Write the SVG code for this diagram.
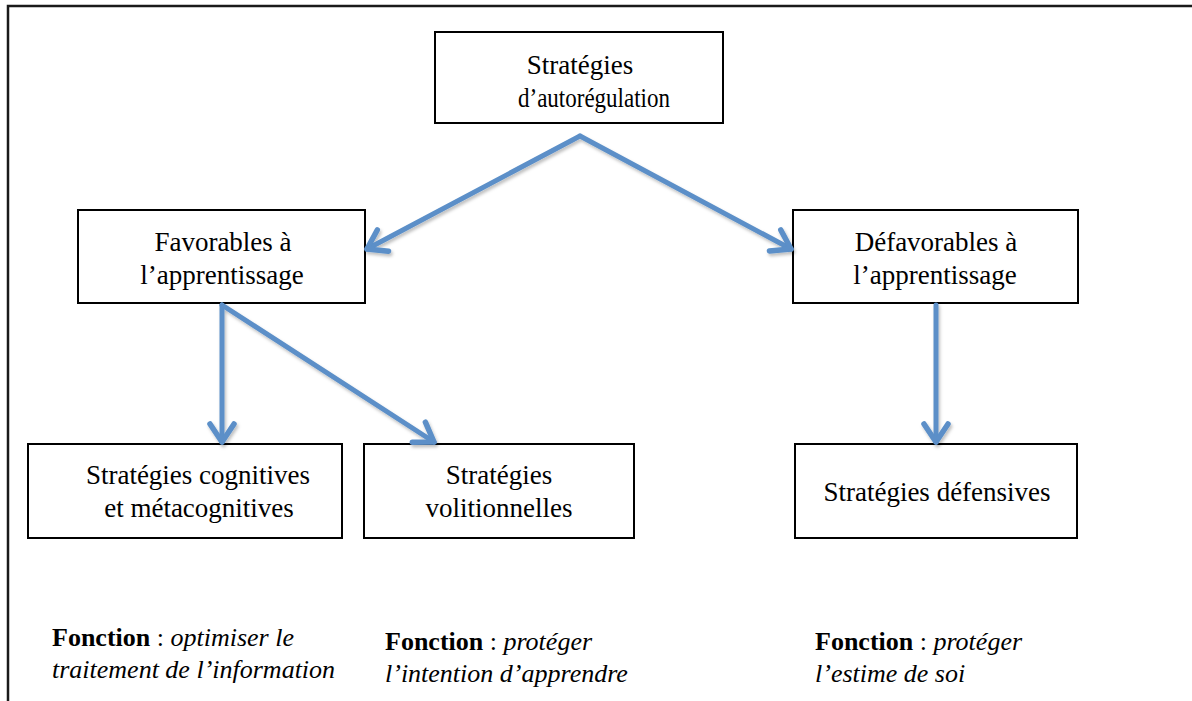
<svg xmlns="http://www.w3.org/2000/svg" width="1192" height="701" viewBox="0 0 1192 701">
<style>
.box{fill:#fff;stroke:#000;stroke-width:2}
.t{font-family:"Liberation Serif","Times New Roman",serif;font-size:27px;fill:#000;text-anchor:middle}
.f{font-family:"Liberation Serif","Times New Roman",serif;font-size:26px;fill:#000}
.b{font-weight:bold}
.i{font-style:italic}
.c{fill:none;stroke:#5B8FC8;stroke-width:5;stroke-linecap:round;stroke-linejoin:round}
</style>
<defs>
<marker id="ah" markerUnits="userSpaceOnUse" markerWidth="40" markerHeight="40" viewBox="-25 -20 30 40" refX="0" refY="0" orient="auto">
<path d="M-18,-12 L0,0 L-18,12" fill="none" stroke="#5B8FC8" stroke-width="5.5" stroke-linecap="round" stroke-linejoin="round"/>
</marker>
<filter id="sh" x="-20%" y="-20%" width="140%" height="140%">
<feDropShadow dx="1.5" dy="2.5" stdDeviation="1.5" flood-color="#000" flood-opacity="0.25"/>
</filter>
</defs>
<g id="frame">
<path d="M8,701 L8,6 L1192,6" fill="none" stroke="#1a1a1a" stroke-width="2.5"/>
</g>
<g id="n-top">
<rect class="box" x="435" y="32" width="288" height="91"/>
<text class="t" x="580" y="74">Stratégies</text>
<text class="t" x="594" y="107" textLength="152" lengthAdjust="spacingAndGlyphs">d’autorégulation</text>
</g>
<g id="n-fav">
<rect class="box" x="78" y="210" width="287" height="93"/>
<text class="t" x="223" y="251">Favorables à</text>
<text class="t" x="222" y="284">l’apprentissage</text>
</g>
<g id="n-defav">
<rect class="box" x="793" y="210" width="285" height="93"/>
<text class="t" x="936" y="251">Défavorables à</text>
<text class="t" x="935" y="284">l’apprentissage</text>
</g>
<g id="n-cog">
<rect class="box" x="28" y="444" width="314" height="94"/>
<text class="t" x="198" y="484">Stratégies cognitives</text>
<text class="t" x="199" y="517">et métacognitives</text>
</g>
<g id="n-vol">
<rect class="box" x="364" y="444" width="270" height="94"/>
<text class="t" x="499" y="484">Stratégies</text>
<text class="t" x="499" y="517">volitionnelles</text>
</g>
<g id="n-def">
<rect class="box" x="795" y="444" width="282" height="94"/>
<text class="t" x="937" y="501">Stratégies défensives</text>
</g>
<g id="connectors" filter="url(#sh)">
<path class="c" d="M580,136 L367,249" marker-end="url(#ah)"/>
<path class="c" d="M580,136 L791,249" marker-end="url(#ah)"/>
<path class="c" d="M222,305 L222,442" marker-end="url(#ah)"/>
<path class="c" d="M222,305 L434,442" marker-end="url(#ah)"/>
<path class="c" d="M936,305 L936,442" marker-end="url(#ah)"/>
</g>
<g id="captions">
<text class="f" x="52" y="646"><tspan class="b">Fonction</tspan> : <tspan class="i">optimiser le</tspan></text>
<text class="f i" x="52" y="678">traitement de l’information</text>
<text class="f" x="385" y="650"><tspan class="b">Fonction</tspan> : <tspan class="i">protéger</tspan></text>
<text class="f i" x="385" y="682">l’intention d’apprendre</text>
<text class="f" x="815" y="650"><tspan class="b">Fonction</tspan> : <tspan class="i">protéger</tspan></text>
<text class="f i" x="815" y="682">l’estime de soi</text>
</g>
</svg>
